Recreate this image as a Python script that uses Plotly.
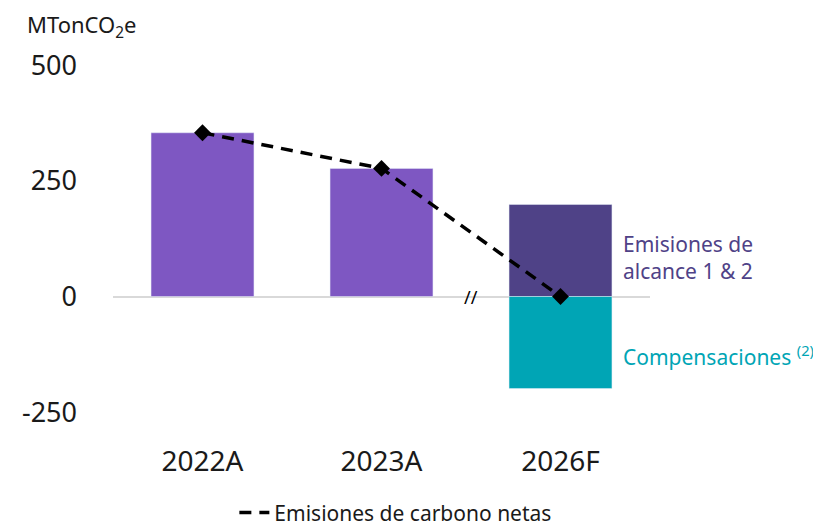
import plotly.graph_objects as go

categories = ["2022A", "2023A", "2026F"]
historic = [354, 277, None]
scope12 = [None, None, 199]
offsets = [None, None, -199]
net = [354, 277, 0]
ytick_vals = [-250, 0, 250, 500]
ytick_text = ["-250", "0", "250", "500"]

FONT = "Noto Sans"
PURPLE = "#7e57c2"
DARK = "#4f4287"
TEAL = "#00a5b5"

fig = go.Figure()
fig.add_trace(go.Bar(x=categories, y=historic, marker_color=PURPLE, showlegend=False, hoverinfo="skip"))
fig.add_trace(go.Bar(x=categories, y=scope12, marker_color=DARK, showlegend=False, name="Emisiones de alcance 1 & 2"))
fig.add_trace(go.Bar(x=categories, y=offsets, marker_color=TEAL, showlegend=False, name="Compensaciones"))
fig.add_trace(go.Scatter(x=categories, y=net, mode="lines", name="Emisiones de carbono netas",
                         line=dict(color="black", width=3.5, dash="12px,8px")))
fig.add_trace(go.Scatter(x=categories, y=net, mode="markers", showlegend=False,
                         marker=dict(symbol="diamond", size=13, color="black")))

fig.update_layout(
    width=813, height=521,
    margin=dict(l=105, r=171, t=48, b=103, autoexpand=False),
    barmode="relative", bargap=0.425,
    plot_bgcolor="white", paper_bgcolor="white",
    font=dict(family=FONT, color="#1a1a1a"),
    xaxis=dict(type="category", range=[-0.5, 2.5], showgrid=False, showline=False,
               ticks="", tickfont=dict(size=28, color="#1a1a1a"), ticklabelstandoff=16),
    yaxis=dict(range=[-280, 520], tickvals=ytick_vals, ticktext=ytick_text, showgrid=False,
               zeroline=True, zerolinecolor="#d9d9d9", zerolinewidth=2, showline=False,
               tickfont=dict(size=27, color="#1a1a1a"), ticklabelstandoff=35),
    legend=dict(orientation="h", x=0.226, xanchor="left", y=-0.235, yanchor="middle",
                font=dict(size=21, color="#1a1a1a"), bgcolor="rgba(0,0,0,0)"),
    annotations=[
        dict(text="MTonCO<sub>2</sub>e", xref="paper", yref="paper", x=-0.164, y=1.08,
             xanchor="left", yanchor="middle", showarrow=False, font=dict(size=22, color="#1a1a1a")),
        dict(text="Emisiones de<br>alcance 1 & 2", xref="x", yref="y", x=2.34, y=84,
             xanchor="left", yanchor="middle", align="left", showarrow=False,
             font=dict(size=21, color=DARK)),
        dict(text="Compensaciones <sup>(2)</sup>", xref="x", yref="y", x=2.34, y=-127,
             xanchor="left", yanchor="middle", align="left", showarrow=False,
             font=dict(size=21, color=TEAL)),
        dict(text="//", xref="x", yref="y", x=1.5, y=0, xanchor="center", yanchor="middle",
             showarrow=False, font=dict(size=18, color="black")),
    ],
)

fig.write_html("out.html")
